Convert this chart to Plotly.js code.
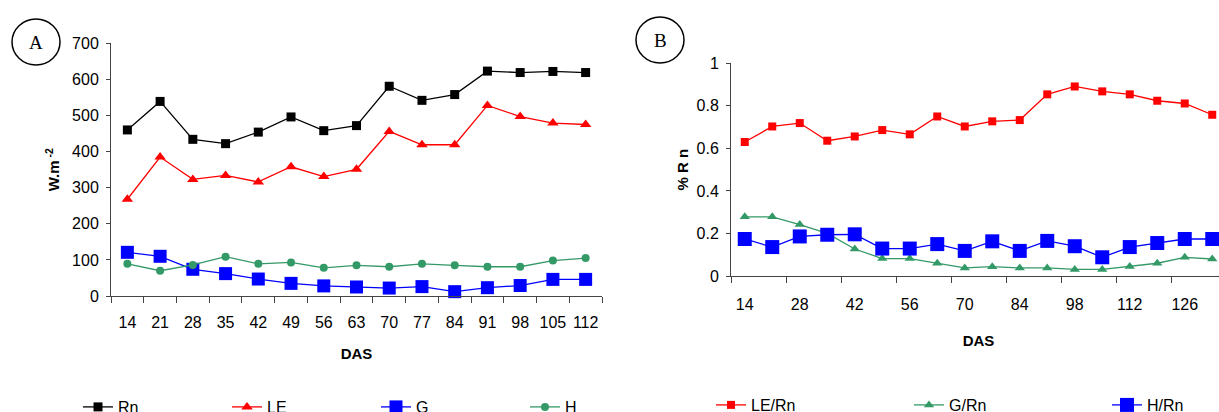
<!DOCTYPE html>
<html>
<head>
<meta charset="utf-8">
<script src="https://cdn.plot.ly/plotly-3.0.1.min.js"></script>
<style>
html,body{margin:0;padding:0;overflow:hidden;background:#fff;}
#chart{width:1330px;height:440px;}
</style>
</head>
<body>
<div id="chart"></div>
<script>
// Panel A data (W.m-2)
const dasA = ["14","21","28","35","42","49","56","63","70","77","84","91","98","105","112"];
const Rn = [460, 539, 434, 422, 454, 496, 458, 472, 581, 542, 558, 623, 619, 622, 619];
const LE = [268, 385, 323, 334, 316, 358, 331, 351, 456, 419, 419, 528, 497, 479, 475];
const G  = [121, 110, 74, 62, 47, 35, 28, 25, 22, 26, 12, 23, 29, 46, 46];
const H  = [89, 70, 86, 109, 89, 93, 78, 85, 81, 89, 85, 81, 81, 98, 105];

// Panel B data (fraction of Rn)
const dasB = ["14","21","28","35","42","49","56","63","70","77","84","91","98","105","112","119","126","133"];
const LERn = [0.630, 0.703, 0.719, 0.636, 0.656, 0.686, 0.666, 0.750, 0.703, 0.727, 0.733, 0.854, 0.891, 0.868, 0.854, 0.824, 0.811, 0.758];
const GRn  = [0.278, 0.278, 0.242, 0.200, 0.127, 0.082, 0.082, 0.060, 0.038, 0.044, 0.038, 0.038, 0.031, 0.031, 0.045, 0.060, 0.088, 0.080];
const HRn  = [0.174, 0.136, 0.186, 0.194, 0.196, 0.129, 0.129, 0.150, 0.118, 0.163, 0.118, 0.165, 0.140, 0.088, 0.136, 0.155, 0.174, 0.174];

const W = 1330, Hh = 440;
const px = v => v / W;
const py = v => 1 - v / Hh;

const GREEN = '#339966';
const tickFont = {family: '"Liberation Sans Narrow", "Liberation Sans", Arial, sans-serif', size: 16, color: '#000'};
const legFont = {family: '"Liberation Sans Narrow", "Liberation Sans", Arial, sans-serif', size: 16, color: '#000'};

function tr(x, y, name, color, symbol, size, xa, ya, leg) {
  return {x: x, y: y, name: name, type: 'scatter', mode: 'lines+markers',
    xaxis: xa, yaxis: ya, legend: leg, cliponaxis: false,
    line: {color: color, width: 1.3},
    marker: {color: color, symbol: symbol, size: size, line: {width: 0}}};
}

const data = [
  tr(dasA, Rn, 'Rn', '#000000', 'square', 9, 'x', 'y', 'legend'),
  tr(dasA, LE, 'LE', '#ff0000', 'triangle-up', 10, 'x', 'y', 'legend'),
  tr(dasA, G, 'G', '#0000ff', 'square', 13, 'x', 'y', 'legend'),
  tr(dasA, H, 'H', GREEN, 'circle', 8, 'x', 'y', 'legend'),
  tr(dasB, LERn, 'LE/Rn', '#ff0000', 'square', 8, 'x2', 'y2', 'legend2'),
  tr(dasB, GRn, 'G/Rn', GREEN, 'triangle-up', 9, 'x2', 'y2', 'legend2'),
  tr(dasB, HRn, 'H/Rn', '#0000ff', 'square', 14, 'x2', 'y2', 'legend2')
];

const axLine = {showline: true, linecolor: '#444', linewidth: 1, showgrid: false, zeroline: false,
  ticks: 'outside', tickcolor: '#444', tickwidth: 1, tickfont: tickFont, tickangle: 0,
  automargin: false, fixedrange: true};

const titleFont = {family: '"Liberation Sans", Arial, sans-serif', size: 15, color: '#000', weight: 'bold'};

const layout = {
  width: W, height: Hh,
  margin: {l: 0, r: 0, t: 0, b: 0},
  paper_bgcolor: '#fff', plot_bgcolor: '#fff',
  showlegend: true,
  xaxis: Object.assign({}, axLine, {domain: [px(111), px(602)], anchor: 'y', type: 'category',
    range: [-0.5, 14.5], tickson: 'boundaries', ticklen: 6, ticklabelstandoff: 12,
    title: {text: '<b>DAS</b>', font: titleFont, standoff: 18}}),
  yaxis: Object.assign({}, axLine, {domain: [py(296), py(43.3)], anchor: 'x', range: [0, 700],
    dtick: 100, ticklen: 4, ticklabelstandoff: 4,
    title: {text: '<b>W.m<sup> -2</sup></b>', font: titleFont, standoff: 8}}),
  xaxis2: Object.assign({}, axLine, {domain: [px(731), px(1226)], anchor: 'y2', type: 'category',
    range: [-0.5, 17.5], tickson: 'boundaries', tickmode: 'linear', tick0: 0, dtick: 2, ticklen: 6,
    ticklabelstandoff: 14,
    title: {text: '<b>DAS</b>', font: titleFont, standoff: 23}}),
  yaxis2: Object.assign({}, axLine, {domain: [py(276), py(63.3)], anchor: 'x2', range: [0, 1],
    dtick: 0.2, ticklen: 4, ticklabelstandoff: 4,
    title: {text: '<b>% R n</b>', font: titleFont, standoff: 4}}),
  legend: {orientation: 'h', x: px(78), y: py(407), xanchor: 'left', yanchor: 'middle',
    entrywidth: 104, entrywidthmode: 'pixels', font: legFont, bgcolor: 'rgba(0,0,0,0)',
    itemclick: false, itemdoubleclick: false},
  legend2: {orientation: 'h', x: px(711), y: py(405), xanchor: 'left', yanchor: 'middle',
    entrywidth: 153, entrywidthmode: 'pixels', font: legFont, bgcolor: 'rgba(0,0,0,0)',
    itemclick: false, itemdoubleclick: false},
  shapes: [
    {type: 'circle', xref: 'paper', yref: 'paper', x0: px(12), x1: px(60), y0: py(65), y1: py(19),
      line: {color: '#000', width: 1.5}},
    {type: 'circle', xref: 'paper', yref: 'paper', x0: px(636), x1: px(684), y0: py(63), y1: py(17),
      line: {color: '#000', width: 1.5}}
  ],
  annotations: [
    {text: 'A', xref: 'paper', yref: 'paper', x: px(36), y: py(42), xanchor: 'center', yanchor: 'middle',
      showarrow: false, font: {family: '"Liberation Serif", "Times New Roman", serif', size: 19, color: '#000'}},
    {text: 'B', xref: 'paper', yref: 'paper', x: px(660), y: py(40), xanchor: 'center', yanchor: 'middle',
      showarrow: false, font: {family: '"Liberation Serif", "Times New Roman", serif', size: 19, color: '#000'}}
  ]
};

Plotly.newPlot('chart', data, layout, {displayModeBar: false, staticPlot: true});
</script>
</body>
</html>
